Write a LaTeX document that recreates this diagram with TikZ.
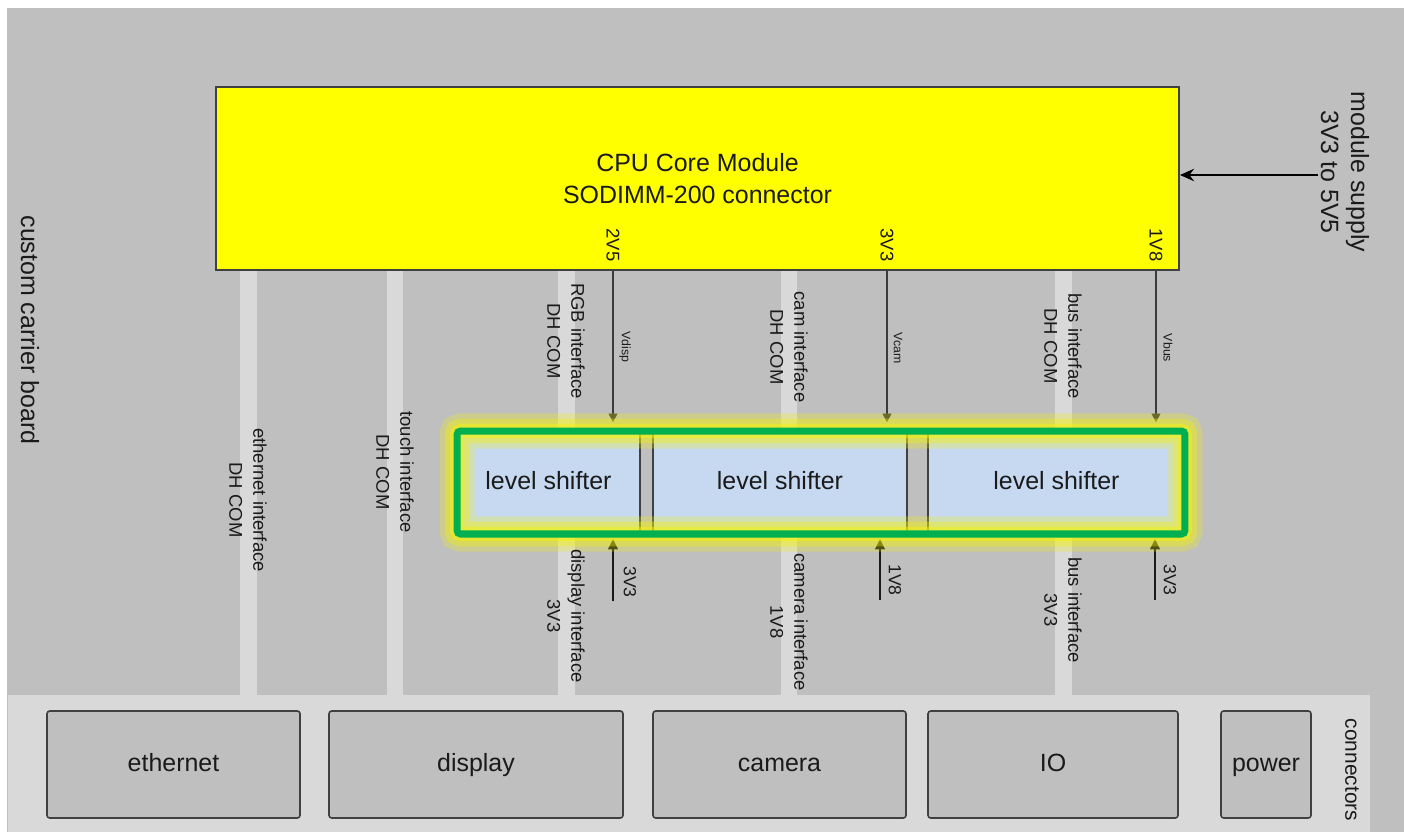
\documentclass[tikz,border=0pt]{standalone}
\usepackage{fontspec}
\setmainfont{Liberation Sans}
\usetikzlibrary{arrows.meta,backgrounds}
\definecolor{board}{HTML}{BFBFBF}
\definecolor{band}{HTML}{D9D9D9}
\definecolor{cpuy}{HTML}{FFFF00}
\definecolor{edge}{HTML}{404040}
\definecolor{lsblue}{HTML}{C6D9F1}
\definecolor{lsgreen}{HTML}{00B050}
\definecolor{glowc}{HTML}{F4F400}
\definecolor{ink}{HTML}{1A1A1A}
\begin{document}
\begin{tikzpicture}[x=0.02cm,y=-0.02cm,
  every node/.style={text=ink, inner sep=0pt},
  bigtxt/.style={font=\fontsize{14.2}{18}\selectfont, align=center},
  vlab/.style={rotate=-90, font=\fontsize{10.5}{13.6}\selectfont, align=center},
  tinylab/.style={rotate=-90, font=\fontsize{7}{8}\selectfont},
  uplab/.style={rotate=-90, font=\fontsize{10}{12}\selectfont},
  cpubox/.style={draw=edge, line width=1.2pt, fill=cpuy, minimum width=19.26cm, minimum height=3.66cm},
  lsbox/.style={draw=edge, line width=0.9pt, fill=lsblue, minimum height=2.06cm, text height=10.5pt, text depth=3pt, font=\fontsize{14.2}{17}\selectfont},
  conbox/.style={draw=edge, line width=0.9pt, fill=board, rounded corners=1.5pt, minimum height=2.14cm, text height=10.5pt, text depth=3pt, font=\fontsize{14.2}{17}\selectfont},
  lsgroup/.style={draw=lsgreen, line width=4pt, rounded corners=2pt, outer sep=0pt,
    minimum width=14.56cm, minimum height=2.06cm,
    preaction={draw=glowc, line width=20pt, opacity=0.25},
    preaction={draw=glowc, line width=14pt, opacity=0.35},
    preaction={draw=glowc, line width=8pt, opacity=0.45}},
  bar/.style={draw=band, line width=9.6pt},
  varr/.style={draw=ink!85, line width=0.8pt, shorten >=4.5pt, -{Triangle[length=5pt,width=5pt]}},
  uparr/.style={draw=ink, line width=1.1pt, shorten >=2.3pt, -{Triangle[length=6pt,width=5.5pt]}},
  suparr/.style={draw=black, line width=1.4pt, -{Stealth[length=8pt,width=7pt]}},
]
\useasboundingbox (0,0) rectangle (1404,832);

% main boxes
\node[cpubox, bigtxt] (cpu) at (697.5,178.5) {CPU Core Module\\SODIMM-200 connector};

\node[conbox, minimum width=5.06cm] (eth) at (173.5,764.5) {ethernet};
\node[conbox, minimum width=5.88cm] (disp) at (476,764.5) {display};
\node[conbox, minimum width=5.06cm] (cam) at (779.5,764.5) {camera};
\node[conbox, minimum width=5.0cm] (io) at (1053,764.5) {IO};
\node[conbox, minimum width=1.8cm] (pwr) at (1266,764.5) {power};

\node[lsbox, minimum width=3.66cm] (ls1) at (548.5,482.5) {level shifter};
\node[lsbox, minimum width=5.08cm] (ls2) at (780,482.5) {level shifter};
\node[lsbox, minimum width=5.14cm] (ls3) at (1056.5,482.5) {level shifter};

% x positions
\coordinate (xeth) at (248.5,0);
\coordinate (xtouch) at (395,0);
\coordinate (xrgb) at (566.5,0);
\coordinate (xcam) at (789,0);
\coordinate (xbus) at (1063.5,0);
\coordinate (x2v5) at (613,0);
\coordinate (x3v3) at (887,0);
\coordinate (x1v8) at (1156,0);
\coordinate (b1) at (613,601);
\coordinate (b2) at (880,600);
\coordinate (b3) at (1155,600);
\coordinate (sup) at (1318,175);

\begin{scope}[on background layer]
  \fill[white] (0,0) rectangle (1404,832);
  \fill[board] (7,8) rectangle (1404,832);
  \fill[band] (8,695) rectangle (1370,832);
  \draw[bar] (cpu.south -| xeth) -- (eth.north -| xeth);
  \draw[bar] (cpu.south -| xtouch) -- (disp.north -| xtouch);
  \draw[bar] (cpu.south -| xrgb) -- (disp.north -| xrgb);
  \draw[bar] (cpu.south -| xcam) -- (cam.north -| xcam);
  \draw[bar] (cpu.south -| xbus) -- (io.north -| xbus);
\end{scope}

% rail arrows
\draw[varr] (cpu.south -| x2v5) -- (ls1.north -| x2v5);
\draw[varr] (cpu.south -| x3v3) -- (ls2.north -| x3v3);
\draw[varr] (cpu.south -| x1v8) -- (ls3.north -| x1v8);
\draw[uparr] (b1) -- (ls1.south -| b1);
\draw[uparr] (b2) -- (ls2.south -| b2);
\draw[uparr] (b3) -- (ls3.south -| b3);
\draw[suparr] (sup) -- (cpu.east |- sup);

% level shifter group with glow
\node[lsgroup] (lsg) at (821,482.5) {};

% labels
\node[bigtxt, rotate=-90] (carrier) at (30,330) {custom carrier board};
\node[bigtxt, rotate=-90, font=\fontsize{14.2}{17}\selectfont] (supply) at (1345,172) {module supply\\3V3 to 5V5};
\node[rotate=-90, font=\fontsize{11.9}{14}\selectfont] (conlab) at (1352,770) {connectors};

\node[vlab] (r2v5) at (613,245) {2V5};
\node[vlab] (r3v3) at (887,245) {3V3};
\node[vlab] (r1v8) at (1156,245) {1V8};
\node[tinylab] (vdisp) at (625,347) {Vdisp};
\node[tinylab] (vcam) at (898,348) {Vcam};
\node[tinylab] (vbus) at (1168,348) {Vbus};

\node[vlab] (ethlab) at (248,500) {ethernet interface\\DH COM};
\node[vlab] (touchlab) at (395,472) {touch interface\\DH COM};
\node[vlab] (rgblab) at (566,341) {RGB interface\\DH COM};
\node[vlab] (displab) at (566,616) {display interface\\3V3};
\node[vlab] (camlab) at (789,347) {cam interface\\DH COM};
\node[vlab] (cameralab) at (789,622) {camera interface\\1V8};
\node[vlab] (buslab) at (1063,346) {bus interface\\DH COM};
\node[vlab] (bus2lab) at (1063,610) {bus interface\\3V3};

\node[uplab] (u1) at (630,582) {3V3};
\node[uplab] (u2) at (895,580) {1V8};
\node[uplab] (u3) at (1170,580) {3V3};
\end{tikzpicture}
\end{document}
